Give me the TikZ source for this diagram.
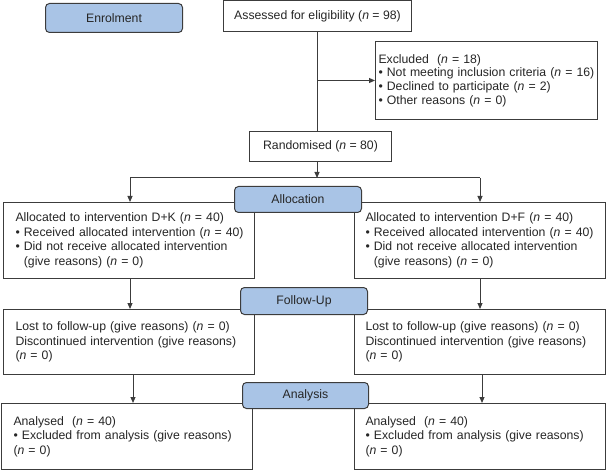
\documentclass[tikz,border=0pt]{standalone}
\usepackage{fontspec}
\setmainfont{Liberation Sans}
\usetikzlibrary{arrows.meta}
\definecolor{linec}{HTML}{3C3C3C}
\definecolor{textc}{HTML}{262626}
\definecolor{stagefill}{HTML}{A9C4E6}
\newcommand{\nn}{\textit{n}}
\newcommand{\hang}{\hphantom{•\ }}
\tikzset{
  box/.style={draw=linec, line width=1bp, fill=white, anchor=north west, text=textc, inner ysep=0pt},
  lbox/.style={box, align=left, inner xsep=12bp, text width=227bp, minimum width=251bp},
  rbox/.style={box, align=left, inner xsep=11bp, text width=229bp, minimum width=251bp},
  stage/.style={draw=linec, line width=1bp, fill=stagefill, rounded corners=4bp, anchor=north west, inner sep=0pt, text=textc},
  ln/.style={draw=linec, line width=1bp},
  arr/.style={ln, -{Triangle[length=6bp,width=5bp]}}
}
\begin{document}
\begin{tikzpicture}[x=1bp, y=-1bp, font=\fontsize{12.3}{14.7}\selectfont]
\useasboundingbox (0,0) rectangle (606,470);
% white boxes
\node[box, minimum width=188bp, minimum height=30.5bp] (assess) at (223,0.5) {Assessed for eligibility (\nn{} = 98)};
\node[box, align=left, inner xsep=2.5bp, text width=216bp, minimum width=222bp, minimum height=78bp,
      font=\fontsize{12.3}{13.8}\selectfont] (excl) at (375,41)
  {Excluded\ \ (\nn{} = 18)\\
   \mbox{• Not meeting inclusion criteria (\nn{} = 16)}\\
   • Declined to participate (\nn{} = 2)\\
   • Other reasons (\nn{} = 0)};
\node[box, minimum width=142bp, minimum height=30bp] (rand) at (249,131) {Randomised (\nn{} = 80)};
\node[lbox, minimum height=76bp] (leftA) at (3,202)
  {\mbox{Allocated to intervention D+K (\nn{} = 40)}\\
   \mbox{• Received allocated intervention (\nn{} = 40)}\\
   \mbox{• Did not receive allocated intervention}\\
   \mbox{\hang(give reasons) (\nn{} = 0)}};
\node[rbox, minimum height=76bp] (rightA) at (354,202)
  {\mbox{Allocated to intervention D+F (\nn{} = 40)}\\
   \mbox{• Received allocated intervention (\nn{} = 40)}\\
   \mbox{• Did not receive allocated intervention}\\
   \mbox{\hang(give reasons) (\nn{} = 0)}};
\node[lbox, minimum height=65bp] (leftF) at (3,309)
  {\mbox{Lost to follow-up (give reasons) (\nn{} = 0)}\\
   \mbox{Discontinued intervention (give reasons)}\\
   (\nn{} = 0)};
\node[rbox, minimum height=65bp] (rightF) at (354,309)
  {\mbox{Lost to follow-up (give reasons) (\nn{} = 0)}\\
   \mbox{Discontinued intervention (give reasons)}\\
   (\nn{} = 0)};
\node[lbox, minimum height=66bp] (leftAn) at (1,403)
  {Analysed\ \ (\nn{} = 40)\\
   \mbox{• Excluded from analysis (give reasons)}\\
   (\nn{} = 0)};
\node[rbox, minimum height=66bp] (rightAn) at (354,403)
  {Analysed\ \ (\nn{} = 40)\\
   \mbox{• Excluded from analysis (give reasons)}\\
   (\nn{} = 0)};
% stage labels
\node[stage, minimum width=137bp, minimum height=29bp] (enrol) at (45,3) {Enrolment};
\node[stage, minimum width=127bp, minimum height=26bp] (alloc) at (234,186) {Allocation};
\node[stage, minimum width=127bp, minimum height=27bp] (fup) at (240,287) {Follow-Up};
\node[stage, minimum width=126bp, minimum height=26bp] (anal) at (242,382) {Analysis};
% connectors
\coordinate (split) at (317,178);
\coordinate (lx) at (130,178);
\coordinate (rx) at (480,178);
\coordinate (lx2) at (133,0);
\coordinate (rx2) at (482,0);
\draw[ln] (assess.south -| split) -- (rand.north -| split);
\draw[arr] (split |- excl.west) -- (excl.west);
\draw[arr] (rand.south -| split) -- (split);
\draw[ln] (lx) -- (rx);
\draw[arr] (lx) -- (lx |- leftA.north);
\draw[arr] (rx) -- (rx |- rightA.north);
\draw[arr] (leftA.south -| lx) -- (leftF.north -| lx);
\draw[arr] (rightA.south -| rx) -- (rightF.north -| rx);
\draw[arr] (leftF.south -| lx2) -- (leftAn.north -| lx2);
\draw[arr] (rightF.south -| rx2) -- (rightAn.north -| rx2);
\end{tikzpicture}
\end{document}
